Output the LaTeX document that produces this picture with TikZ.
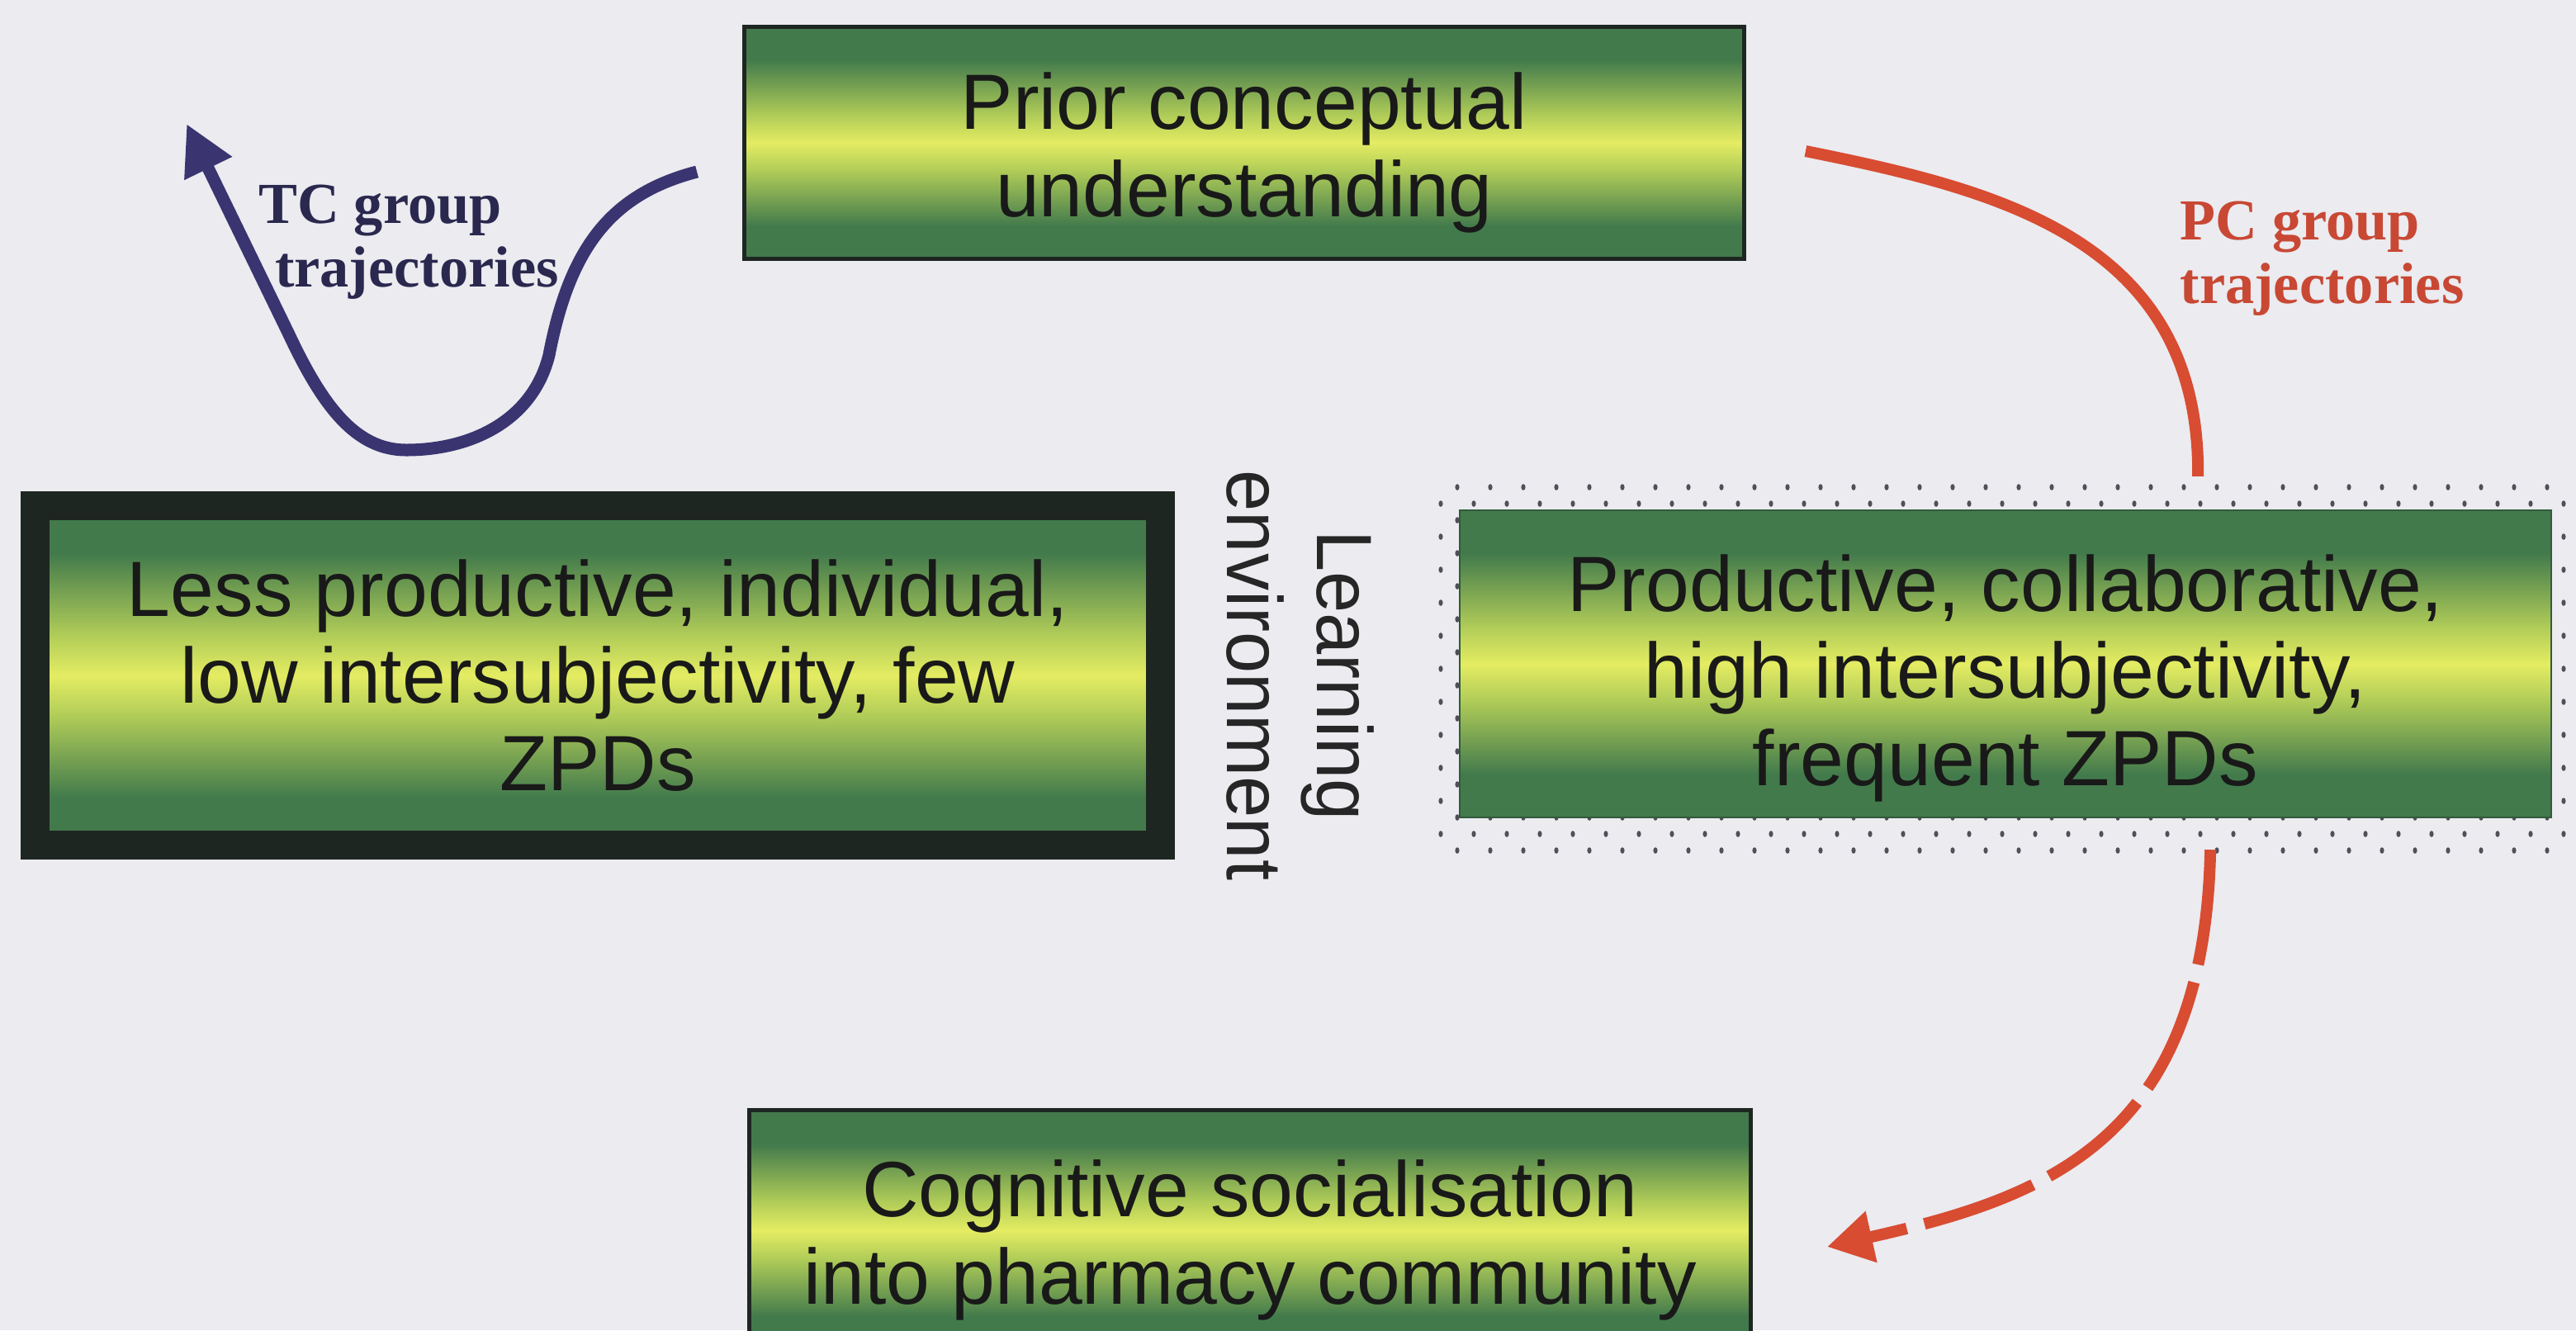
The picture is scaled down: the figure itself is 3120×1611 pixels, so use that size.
\documentclass[tikz,border=0pt]{standalone}
\usepackage{fontspec}
\usepackage{graphicx}
\setmainfont{Liberation Serif}
\newfontfamily\arialf{Liberation Sans}
\usetikzlibrary{arrows.meta}
\definecolor{bgc}{RGB}{235,235,240}
\definecolor{eg}{RGB}{66,122,76}
\definecolor{limec}{RGB}{176,204,88}
\definecolor{my}{RGB}{228,236,98}
\definecolor{framec}{RGB}{30,38,33}
\definecolor{tcblue}{RGB}{58,52,112}
\definecolor{tctext}{RGB}{42,40,78}
\definecolor{pcred}{RGB}{216,76,50}
\definecolor{pctext}{RGB}{200,72,52}
\definecolor{dotc}{RGB}{80,80,88}
\definecolor{prodedge}{RGB}{50,90,58}
\pgfdeclareverticalshading{boxshade}{100bp}{color(0bp)=(eg); color(25bp)=(eg); color(32bp)=(eg); color(44bp)=(limec); color(50bp)=(my); color(56bp)=(limec); color(68bp)=(eg); color(75bp)=(eg); color(100bp)=(eg)}
\tikzset{
  boxtext/.style={font=\arialf\fontsize{27pt}{30pt}\selectfont, align=center, text=black!90, inner sep=0pt},
  gbox/.style={shading=boxshade, inner sep=0pt},
  thinbox/.style={gbox, draw=framec, line width=0.05cm},
  thickbox/.style={gbox, draw=framec, line width=0.35cm},
  lbl/.style={font=\bfseries\fontsize{20pt}{22pt}\selectfont, align=left, inner sep=0pt},
  tcarrow/.style={draw=tcblue, line width=0.15cm, -{Triangle[length=0.6cm,width=0.6cm]}},
  pcline/.style={draw=pcred, line width=0.14cm},
  pcdash/.style={pcline, dash pattern=on 1.4cm off 0.22cm, -{Triangle[length=0.55cm,width=0.6cm]}},
  envtext/.style={rotate=-90, font=\arialf\fontsize{27pt}{31pt}\selectfont, align=center, text=black!85, inner sep=0pt}
}
\begin{document}
\begin{tikzpicture}[x=0.01cm, y=-0.01cm]
\useasboundingbox (0,0) rectangle (3120,1611);
\clip (0,0) rectangle (3120,1611);
\fill[bgc] (0,0) rectangle (3120,1611);

% top box
\node[thinbox, minimum width=12.1cm, minimum height=2.8cm] (prior) at (1507,173) {};
\node[boxtext, yshift=-0.12cm] (priortxt) at (prior.center) {Prior conceptual\\understanding};

% left box
\node[thickbox, minimum width=13.63cm, minimum height=4.11cm] (less) at (724,818) {};
\node[boxtext] (lesstxt) at (less.center) {Less productive, individual,\\low intersubjectivity, few\\ZPDs};

% dotted frame around right box
\foreach \i in {0,...,68}{
  \foreach \j in {0,...,22}{
    \pgfmathtruncatemacro\s{\i+\j}
    \ifodd\s
      \fill[dotc] (1745+20*\i, 590+20*\j) ellipse (2.6 and 3.8);
    \fi
  }
}

% right box
\node[gbox, draw=prodedge, line width=0.02cm, minimum width=13.22cm, minimum height=3.72cm] (prod) at (2429,804) {};
\node[boxtext, yshift=-0.17cm] (prodtxt) at (prod.center) {Productive, collaborative,\\high intersubjectivity,\\frequent ZPDs};

% bottom box
\node[thinbox, minimum width=12.12cm, minimum height=2.9cm] (cog) at (1514,1490) {};
\node[boxtext, yshift=-0.12cm] (cogtxt) at (cog.center) {Cognitive socialisation\\into pharmacy community};

% rotated label
\node[envtext] (learn) at (1575,818) {\scalebox{0.95}[1]{Learning}\\\scalebox{0.95}[1]{environment}};

% labels
\node[lbl, text=tctext, anchor=west] (tclabel) at (313,293) {TC group\\\hspace*{5.5pt}trajectories};
\node[lbl, text=pctext, anchor=west] (pclabel) at (2640,313) {PC group\\trajectories};

% TC trajectory
\coordinate (tcs) at ([xshift=-0.55cm,yshift=-0.35cm]prior.west);
\coordinate (tce) at (226,150);
\draw[tcarrow] (tcs) .. controls (740,235) and (690,300) .. (665,430)
  .. controls (645,510) and (570,545) .. (492,545)
  .. controls (430,545) and (390,490) .. (350,405) -- (tce);

% PC trajectory
\coordinate (pcs) at ([xshift=0.72cm,yshift=-0.1cm]prior.east);
\coordinate (pce) at ([xshift=2.33cm,yshift=0.4cm]prod.north);
\draw[pcline] (pcs) .. controls (2420,230) and (2665,290) .. (pce);

\coordinate (dss) at ([xshift=2.48cm,yshift=-0.38cm]prod.south);
\coordinate (dse) at ([xshift=0.9cm,yshift=-0.2cm]cog.east);
\draw[pcdash] (dss) .. controls (2670,1380) and (2480,1450) .. (dse);
\end{tikzpicture}
\end{document}
